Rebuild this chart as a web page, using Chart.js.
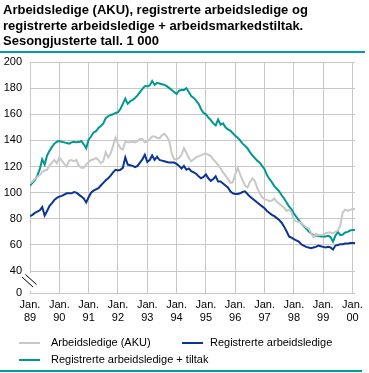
<!DOCTYPE html>
<html><head><meta charset="utf-8">
<script src="https://cdn.jsdelivr.net/npm/chart.js@4.4.1/dist/chart.umd.min.js"></script>
<style>
html,body{margin:0;padding:0;background:#fff;}
#wrap{position:relative;width:369px;height:373px;overflow:hidden;font-family:"Liberation Sans",Arial,sans-serif;color:#000;}
#title{position:absolute;left:3px;top:2px;font-size:13px;line-height:15.5px;font-weight:bold;white-space:nowrap;}
.rule{position:absolute;left:0;height:2px;background:#00a09a;}
canvas{position:absolute;left:0;top:0;}
.leg{position:absolute;font-size:11px;line-height:13px;white-space:nowrap;}
.sw{position:absolute;height:2px;width:21px;}
</style></head>
<body>
<div id="wrap">
<canvas id="c" width="369" height="373"></canvas>
<div id="title">Arbeidsledige (AKU), registrerte arbeidsledige og<br>registrerte arbeidsledige + arbeidsmarkedstiltak.<br>Sesongjusterte tall. 1 000</div>
<div class="rule" style="top:51px;width:365px;"></div>
<div class="sw" style="left:19px;top:342px;background:#c8c8c8;"></div>
<div class="leg" style="left:51px;top:336px;">Arbeidsledige (AKU)</div>
<div class="sw" style="left:182px;top:342px;background:#0b3495;"></div>
<div class="leg" style="left:210px;top:336px;">Registrerte arbeidsledige</div>
<div class="sw" style="left:19px;top:359px;background:#00998f;"></div>
<div class="leg" style="left:51px;top:353px;">Registrerte arbeidsledige + tiltak</div>
<div class="rule" style="top:370px;width:362px;"></div>
</div>
<script>
// Monthly series, Jan 1989 – Feb 2000 (1 000 persons, seasonally adjusted)
const seriesNames = ['Arbeidsledige (AKU)', 'Registrerte arbeidsledige', 'Registrerte arbeidsledige + tiltak'];
const yearLabels = ['89','90','91','92','93','94','95','96','97','98','99','00'];
const yTickValues = [40,60,80,100,120,140,160,180,200];

const aku = [
 107,108.5,110.5,112,113.5,116,117,117.5,121,123,125,122.5,
 127,124.5,122,120,124.5,125,124,125,120.5,119,119,121.5,
 123.5,125,125.5,126.5,125,122.5,124,131,127,130,136,142,
 137.5,134,133,139,138.5,138.5,139,138.5,139.5,141,141,138.5,
 139,141,143,143,142,141.5,144,145,143,139.5,130,125.5,
 125.5,126.5,129,134,130.5,126.5,124,125.5,127,128,128.5,129.5,
 130,129,128,125.5,123.5,121,118.5,115.5,113,110.5,107.5,108,
 114,119,114,109.5,105.5,104,108,111,109,103.5,99.5,96.5,
 95,94.5,93.5,94,95.5,93,91.5,90,88.5,86,87,85,
 79,78,77.5,77,75,73.5,72.5,69.5,66,68.5,67.5,67.5,
 67.5,69,69.5,69.5,69,70,71,75,85,87,86,87,
 87.5,87.5
];
const registrerte = [
 82,83,84.5,85.5,86.5,89,82.5,86,90,92,94.5,96,
 97,97.5,98.5,99.5,99.5,99.5,100.5,100,98.5,97,95.5,92.5,
 96.5,100,101.5,102.5,103.5,105.5,107.5,109.5,111,113,115.5,117.5,
 117,117.5,119,127,121.5,121,120.5,119.5,120.5,123,125.5,129,
 123.5,125,128.5,125,127.5,125,124.5,124,123.5,123,123,123,
 122,120.5,118.5,120.5,117.5,118.5,116.5,115.5,114.5,112.5,111,112,
 114,111,109,110.5,112.5,108.5,108.5,107,105.5,104,101,99.5,
 99,99,99.5,100.5,101,99,97,95.5,94,92.5,91,89.5,
 88,86,84.5,83,82,80.5,79,77,74,70.5,66.5,65.5,
 64.5,63.5,62.5,60.5,59.5,58.5,58,57.5,58,58.5,59.5,59,
 58.5,58,58.5,58,56.5,59.5,60,60.5,60.5,61,61,61.5,
 61.5,61.5
];
const tiltak = [
 105.5,107.5,109.5,113,118,125.5,121.5,128.5,132,135,137.5,139,
 139.5,139,138.5,138,137.5,138.5,139,138.5,138.7,139.5,137,134,
 140.5,143,146,147,149.5,151,153,157,158.5,159.5,160,161,
 161.5,164,168,172,168,170,171,172.5,174.5,177,179.5,181.5,
 181.5,182,185.5,182.5,184,183.5,183,182.5,181.5,180,178.5,177,
 175.5,178,178.5,178.5,180,177,174,172.5,170.5,168,164,161,
 160,157.5,155.5,153,151.5,156,152,153,150,148.5,147.5,145.5,
 143.5,142,140,137.5,136,134,131,128.5,126.5,124.5,123,120.5,
 118,113.5,110.5,108,105,103,101,98,95.5,92.5,89.5,87.5,
 84,81.5,79,76.5,74.5,72.5,70.5,69,67.5,67,67,66.5,
 66.5,66.5,67,66,62.5,67,70,67.5,68,69.5,70,71,
 71.5,71.5
];

const Y_BREAK_MIN = 23.2; // compressed bottom of broken axis, labelled "0"
const FONT = '"Liberation Sans", Arial, sans-serif';
const toXY = arr => arr.map((v, i) => ({x: i, y: v}));

const breakPlugin = {
  id: 'axisBreak',
  afterDraw(chart) {
    const c = chart.ctx, ys = chart.scales.y, a = chart.chartArea;
    const ax = a.left, y40 = ys.getPixelForValue(40), yb = a.bottom;
    const cy = (y40 + yb) / 2;
    c.save();
    c.fillStyle = '#fff';
    c.fillRect(ax - 2, y40 + 2, 4, yb - y40 - 4);
    c.strokeStyle = '#000';
    c.lineWidth = 1;
    [[-2, 0], [1.5, -2.5]].forEach(([dx, dy]) => {
      c.beginPath();
      c.moveTo(ax - 6 + dx, cy - 5 + dy);
      c.lineTo(ax + 5 + dx, cy + 5 + dy);
      c.stroke();
    });
    c.restore();
  }
};

new Chart(document.getElementById('c'), {
  type: 'line',
  data: {
    datasets: [
      {label: seriesNames[0], data: toXY(aku), borderColor: '#c8c8c8'},
      {label: seriesNames[1], data: toXY(registrerte), borderColor: '#0b3495'},
      {label: seriesNames[2], data: toXY(tiltak), borderColor: '#00998f'}
    ]
  },
  options: {
    responsive: false,
    animation: false,
    devicePixelRatio: 1,
    layout: {padding: {top: 62, right: 12, bottom: 48, left: 0}},
    plugins: {legend: {display: false}, tooltip: {enabled: false}},
    elements: {point: {radius: 0}, line: {borderWidth: 2, tension: 0}},
    scales: {
      x: {
        type: 'linear', min: 0, max: registrerte.length - 1,
        afterBuildTicks: s => { s.ticks = yearLabels.map((l, k) => ({value: k * 12})); },
        afterFit: s => { s.height = 32; },
        grid: {color: '#c8c8c8', drawTicks: false, lineWidth: 1},
        border: {color: '#c8c8c8'},
        ticks: {padding: 6, maxRotation: 0, autoSkip: false, color: '#000',
          font: {size: 11, family: FONT, lineHeight: 1.15},
          callback: v => ['Jan.', yearLabels[Math.round(v / 12)]]}
      },
      y: {
        min: Y_BREAK_MIN, max: 200,
        afterBuildTicks: s => { s.ticks = [Y_BREAK_MIN].concat(yTickValues).map(v => ({value: v})); },
        afterFit: s => { s.width = 30; },
        grid: {color: '#c8c8c8', drawTicks: false, lineWidth: 1},
        border: {color: '#c8c8c8'},
        ticks: {padding: 8, color: '#000', font: {size: 11, family: FONT},
          callback: v => (v === Y_BREAK_MIN ? '0' : String(v))}
      }
    }
  },
  plugins: [breakPlugin]
});
</script>
</body></html>
